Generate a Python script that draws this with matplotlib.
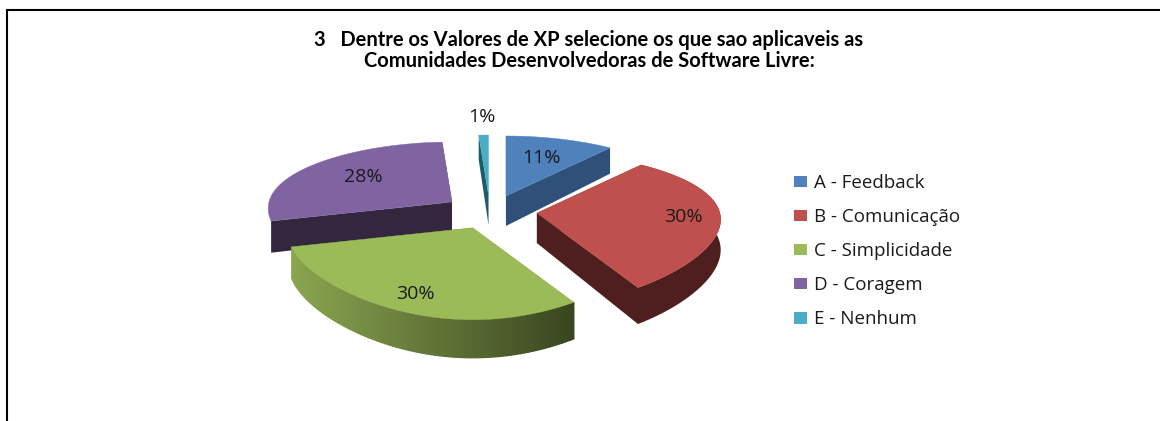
import numpy as np
import matplotlib
matplotlib.use("Agg")
import matplotlib.pyplot as plt
from matplotlib.patches import Patch, Polygon
from matplotlib.colors import to_rgb

#==============================================================================
# DATA
#==============================================================================
title_lines = ["3   Dentre os Valores de XP selecione os que sao aplicaveis as",
               "Comunidades Desenvolvedoras de Software Livre:"]
categories = ["A - Feedback", "B - Comunicação", "C - Simplicidade", "D - Coragem", "E - Nenhum"]
values = [11, 30, 30, 28, 1]
top_colors = ["#4f81bd", "#c0504d", "#9bbb59", "#8064a2", "#4bacc6"]
wall_left = ["#2f5079", "#4f1e1e", "#8aa650", "#35263f", "#1d5a6a"]
wall_right = ["#2f5079", "#4f1e1e", "#39461f", "#35263f", "#1d5a6a"]
rim_visible = [False, True, True, False, False]
label_frac = [0.62, 0.8, 0.82, 0.63, 1.38]
draw_order = [4, 3, 0, 1, 2]

#==============================================================================
# PIE GEOMETRY (pixels)
#==============================================================================
cx, cy = 490, 212
rx, ry = 183, 72.6
persp_x1, persp_x2, persp_y = 0.0985, 0.0746, 0.21
depth = 30
explode_x, explode_y = 47, 17
text_col = "#1a1a1a"


def project(u, v):
    den = 1 - persp_y * v
    den_x = 1 - persp_x1 * v + persp_x2 * v ** 2
    return rx * u / den_x, ry * v / den, depth / den


def rim(t):
    return project(np.sin(t), -np.cos(t))


fig = plt.figure(figsize=(11.6, 4.21), dpi=100)
ax = fig.add_axes([0, 0, 1, 1])
ax.set_xlim(0, 1160)
ax.set_ylim(421, 0)
ax.axis("off")

# frame of the pasted picture
ax.plot([7, 7, 1160], [421, 10, 10], color="k", lw=1.5, solid_joinstyle="miter")

shares = np.array(values) / sum(values)
edges = np.concatenate([[0], np.cumsum(shares)]) * 2 * np.pi

for z, i in enumerate(draw_order):
    t0, t1 = edges[i], edges[i + 1]
    mid = (t0 + t1) / 2
    ax0 = cx + explode_x * np.sin(mid)
    ay0 = cy - explode_y * np.cos(mid)
    ts = np.linspace(t0, t1, 80)
    px, py, pd = rim(ts)
    px, py = ax0 + px, ay0 + py
    # radial walls
    for k in (0, -1):
        ax.add_patch(Polygon([(ax0, ay0), (px[k], py[k]), (px[k], py[k] + pd[k]), (ax0, ay0 + depth)],
                             fc=wall_left[i] if k == 0 else wall_right[i], ec="none", zorder=2 + z))
    # rim wall, shaded from left to right when the two colours differ
    c0, c1 = np.array(to_rgb(wall_left[i])), np.array(to_rgb(wall_right[i]))
    if rim_visible[i]:
        if wall_left[i] == wall_right[i]:
            ax.add_patch(Polygon(np.column_stack([np.r_[px, px[::-1]], np.r_[py, (py + pd)[::-1]]]),
                                 fc=c0, ec="none", zorder=2 + z))
        else:
            for j in range(len(ts) - 1):
                f = (px[j] - px.min()) / max(px.max() - px.min(), 1)
                col = c0 + (c1 - c0) * f
                ax.add_patch(Polygon([(px[j], py[j]), (px[j + 1], py[j + 1]),
                                      (px[j + 1], py[j + 1] + pd[j + 1]), (px[j], py[j] + pd[j])],
                                     fc=col, ec=col, lw=1.0, zorder=2 + z))
    ax.add_patch(Polygon(np.column_stack([np.r_[ax0, px], np.r_[ay0, py]]), fc=top_colors[i],
                         ec=top_colors[i], lw=0.3, zorder=2.5 + z))
    lx, ly, _ = project(label_frac[i] * np.sin(mid), -label_frac[i] * np.cos(mid))
    ax.text(ax0 + lx, ay0 + ly, "%d%%" % values[i], ha="center", va="center", fontsize=14,
            family="Open Sans", color=text_col, zorder=20)

for k, line in enumerate(title_lines):
    ax.text(589, 40 + 21 * k, line, ha="center", va="center", fontsize=14.5, fontweight="bold",
            family="Lato", color="k")

handles = [Patch(fc=c, ec="none") for c in top_colors]
leg = ax.legend(handles, categories, loc="upper left", bbox_to_anchor=(794 / 1160, 1 - 174 / 421),
                frameon=False, prop={"family": "Open Sans", "size": 13.5}, labelcolor=text_col,
                handlelength=0.7, handleheight=0.55, handletextpad=0.35, labelspacing=0.86,
                borderpad=0, borderaxespad=0)

fig.savefig("out.png", dpi=100)
